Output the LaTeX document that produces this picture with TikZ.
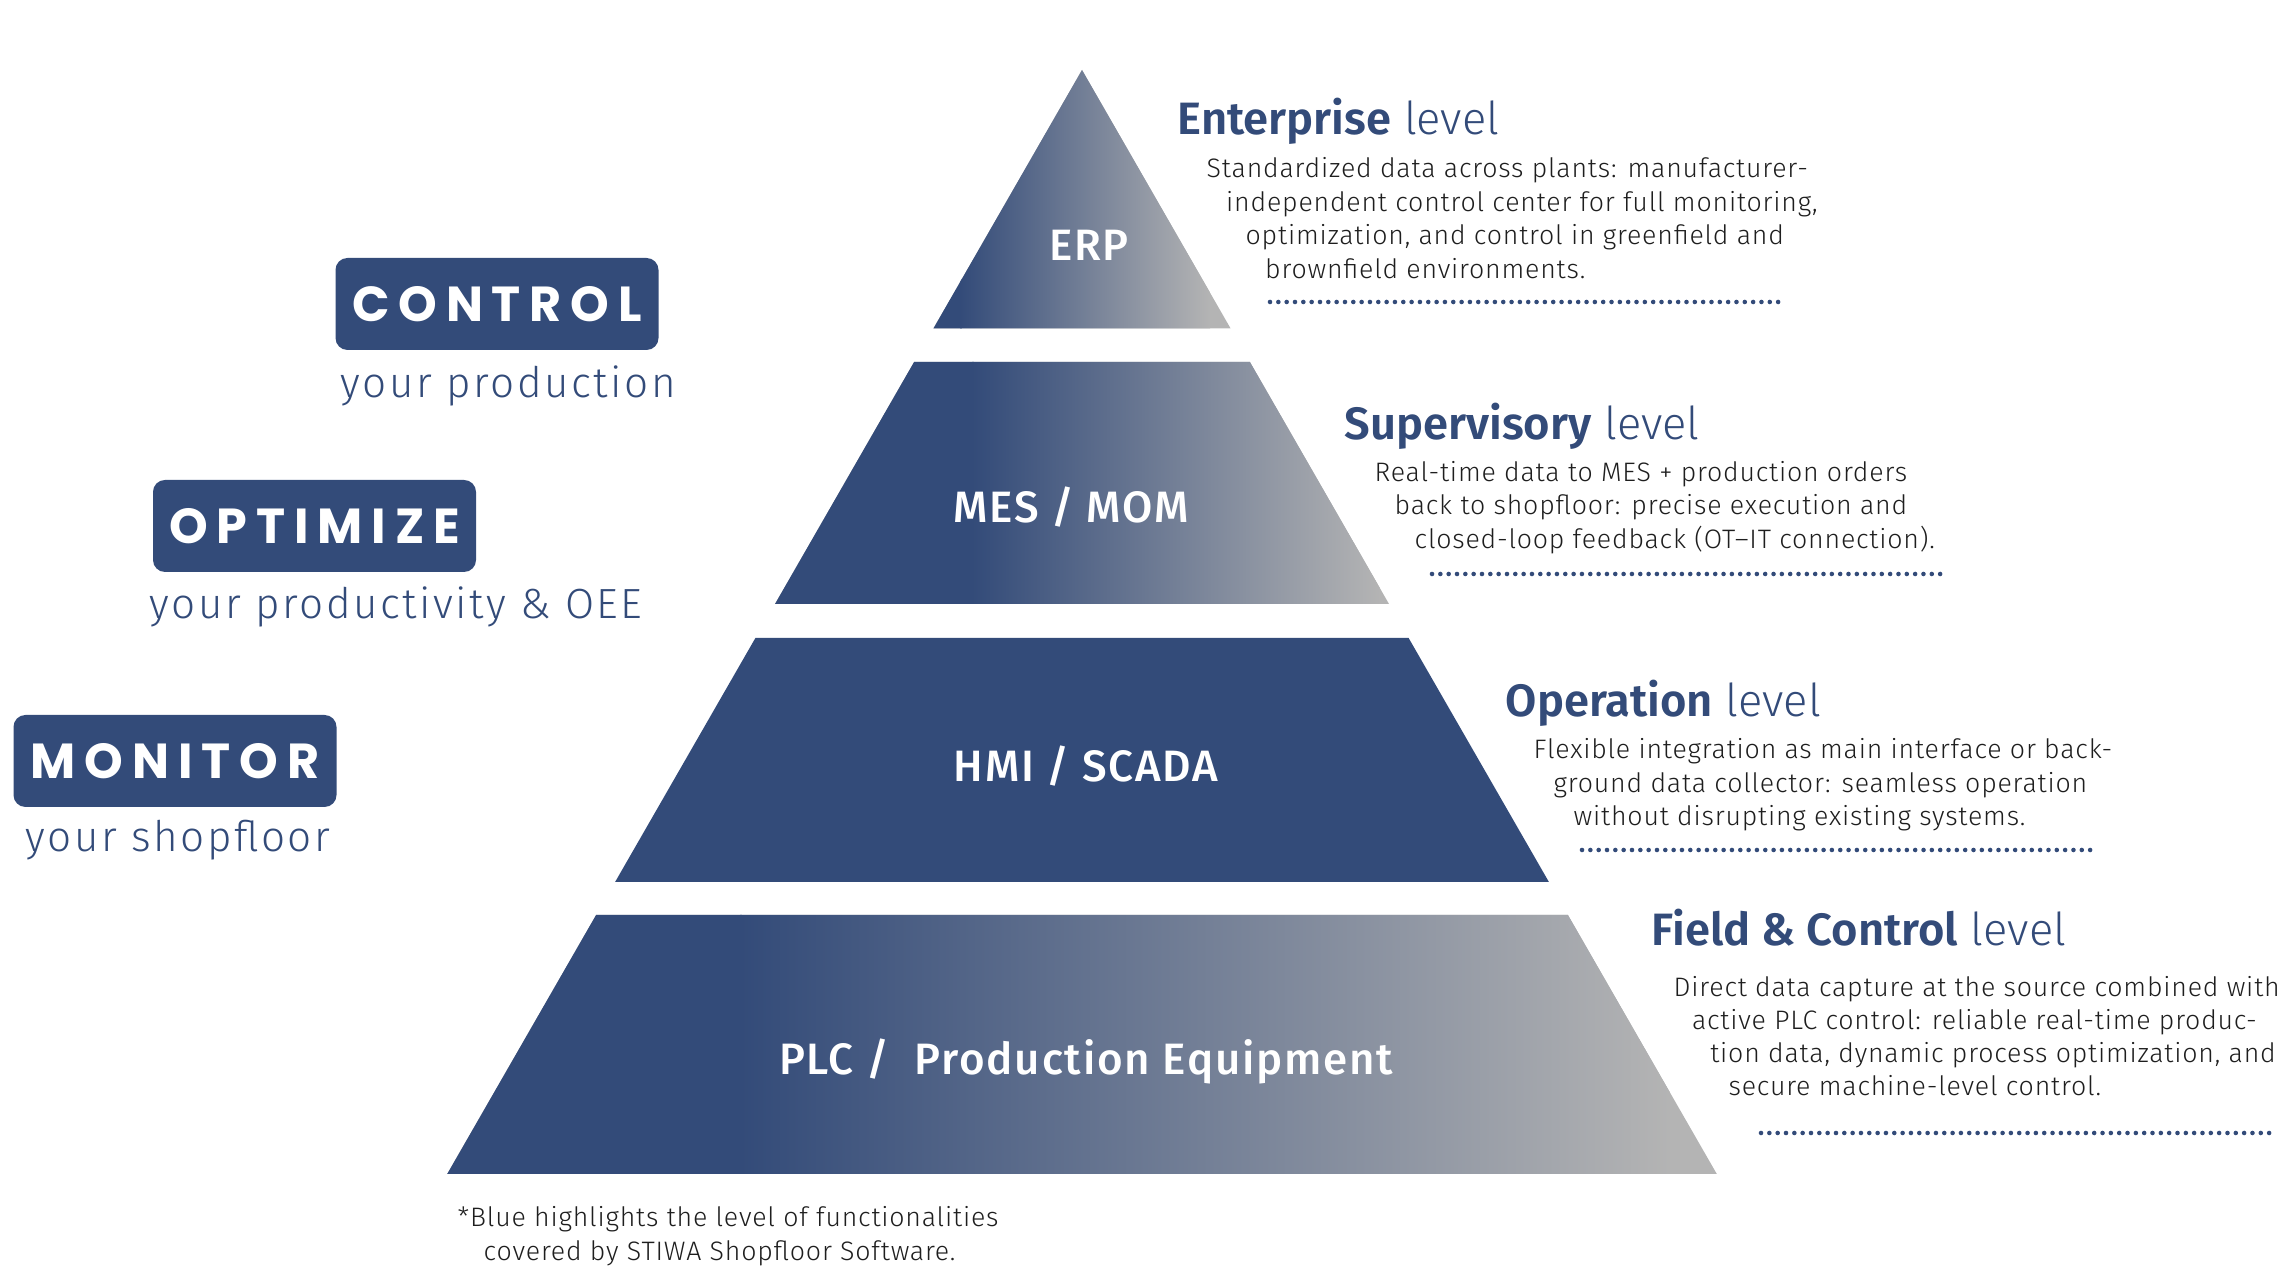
\documentclass[tikz,border=0pt]{standalone}
\usepackage{fontspec}
\setmainfont{Fira Sans Light}[BoldFont={Fira Sans SemiBold}]
\newfontfamily\descfont{Fira Sans Light}[LetterSpace=3]
\newfontfamily\medfont{Fira Sans Medium}[LetterSpace=4]
\newfontfamily\boxfont{Poppins}[LetterSpace=18]
\newfontfamily\tagfont{Fira Sans Light}[LetterSpace=6]
\definecolor{stiwablue}{HTML}{334B79}
\definecolor{stiwagray}{HTML}{B4B4B4}
\definecolor{textdark}{HTML}{1E1E1E}

\begin{document}
\begin{tikzpicture}[
  tierlabel/.style={text=white, font=\medfont\fontsize{12.5}{15}\selectfont},
  tagbox/.style={fill=stiwablue, rounded corners=3.4pt, minimum width=3.23cm, minimum height=0.92cm, text=white, font=\boxfont\bfseries\fontsize{14}{16}\selectfont},
  tagline/.style={anchor=base west, inner sep=0pt, text=stiwablue, font=\tagfont\fontsize{12}{14}\selectfont},
  title/.style={anchor=base west, inner sep=0pt, text=stiwablue, font=\fontsize{12.9}{15}\selectfont},
  desc/.style={anchor=base west, inner sep=0pt, text=textdark, font=\descfont\fontsize{7.6}{9}\selectfont},
  dots/.style={stiwablue, line width=1.3pt, line cap=round, dash pattern=on 0pt off 2.37pt}
]
\useasboundingbox (0,0) rectangle (22.89,12.88);

% pyramid tiers
\begin{scope}
  \clip (9.334,9.595) -- (10.82,12.18) -- (12.306,9.595) -- cycle;
  \fill[stiwagray] (9.3,9.5) rectangle (12.4,12.2);
  \fill[stiwablue] (9.3,9.5) rectangle (9.62,12.2);
  \shade[left color=stiwablue, right color=stiwagray] (9.6,9.5) rectangle (12.1,12.2);
\end{scope}
\begin{scope}
  \clip (7.75,6.84) -- (9.141,9.26) -- (12.499,9.26) -- (13.89,6.84) -- cycle;
  \fill[stiwagray] (7.7,6.8) rectangle (13.9,9.3);
  \fill[stiwablue] (7.7,6.8) rectangle (9.74,9.3);
  \shade[left color=stiwablue, right color=stiwagray] (9.72,6.8) rectangle (13.8,9.3);
\end{scope}
\fill[stiwablue] (6.151,4.06) -- (7.554,6.50) -- (14.086,6.50) -- (15.489,4.06) -- cycle;
\begin{scope}
  \clip (4.472,1.14) -- (5.961,3.73) -- (15.679,3.73) -- (17.168,1.14) -- cycle;
  \fill[stiwagray] (4.4,1.1) rectangle (17.2,3.8);
  \fill[stiwablue] (4.4,1.1) rectangle (7.42,3.8);
  \shade[left color=stiwablue, right color=stiwagray] (7.4,1.1) rectangle (16.7,3.8);
\end{scope}

\node[tierlabel] (erp) at (10.89,10.43) {ERP};
\node[tierlabel] (mes) at (10.71,7.81) {MES / MOM};
\node[tierlabel] (hmi) at (10.86,5.22) {HMI / SCADA};
\node[tierlabel] (plc) at (10.86,2.27) {PLC /\ \ Production Equipment};

% left tags
\node[tagbox] (control) at (4.97,9.84) {CONTROL};
\node[tagline] (control-sub) at (3.40,8.90) {your production};
\node[tagbox] (optimize) at (3.145,7.62) {OPTIMIZE};
\node[tagline] (optimize-sub) at (1.49,6.69) {your productivity \& OEE};
\node[tagbox] (monitor) at (1.75,5.27) {MONITOR};
\node[tagline] (monitor-sub) at (0.25,4.36) {your shopfloor};

% enterprise level
\node[title] (ent) at (11.77,11.53) {\textbf{Enterprise} level};
\foreach \t [count=\i] in {Standardized data across plants: manufacturer-, {independent control center for full monitoring,}, {optimization, and control in greenfield and}, brownfield environments.}
  \node[desc] (ent-\i) at ({12.06+0.195*(\i-1)},{11.10-0.335*(\i-1)}) {\t};
\draw[dots] (12.70,9.86) -- (17.82,9.86);

% supervisory level
\node[title] (sup) at (13.44,8.48) {\textbf{Supervisory} level};
\foreach \t [count=\i] in {Real-time data to MES + production orders, back to shopfloor: precise execution and, closed-loop feedback (OT–IT connection).}
  \node[desc] (sup-\i) at ({13.74+0.2*(\i-1)},{8.065-0.335*(\i-1)}) {\t};
\draw[dots] (14.32,7.14) -- (19.44,7.14);

% operation level
\node[title] (ope) at (15.05,5.71) {\textbf{Operation} level};
\foreach \t [count=\i] in {Flexible integration as main interface or back-, ground data collector: seamless operation, without disrupting existing systems.}
  \node[desc] (ope-\i) at ({15.33+0.2*(\i-1)},{5.29-0.335*(\i-1)}) {\t};
\draw[dots] (15.82,4.38) -- (20.95,4.38);

% field & control level
\node[title] (fld) at (16.51,3.42) {\textbf{Field \& Control} level};
\foreach \t [count=\i] in {Direct data capture at the source combined with, active PLC control: reliable real-time produc-, {tion data, dynamic process optimization, and}, secure machine-level control.}
  \node[desc] (fld-\i) at ({16.73+0.183*(\i-1)},{2.91-0.33*(\i-1)}) {\t};
\draw[dots] (17.61,1.55) -- (22.73,1.55);

% footnote
\node[desc] (note-1) at (4.57,0.61) {*Blue highlights the level of functionalities};
\node[desc] (note-2) at (4.83,0.275) {covered by STIWA Shopfloor Software.};
\end{tikzpicture}
\end{document}
